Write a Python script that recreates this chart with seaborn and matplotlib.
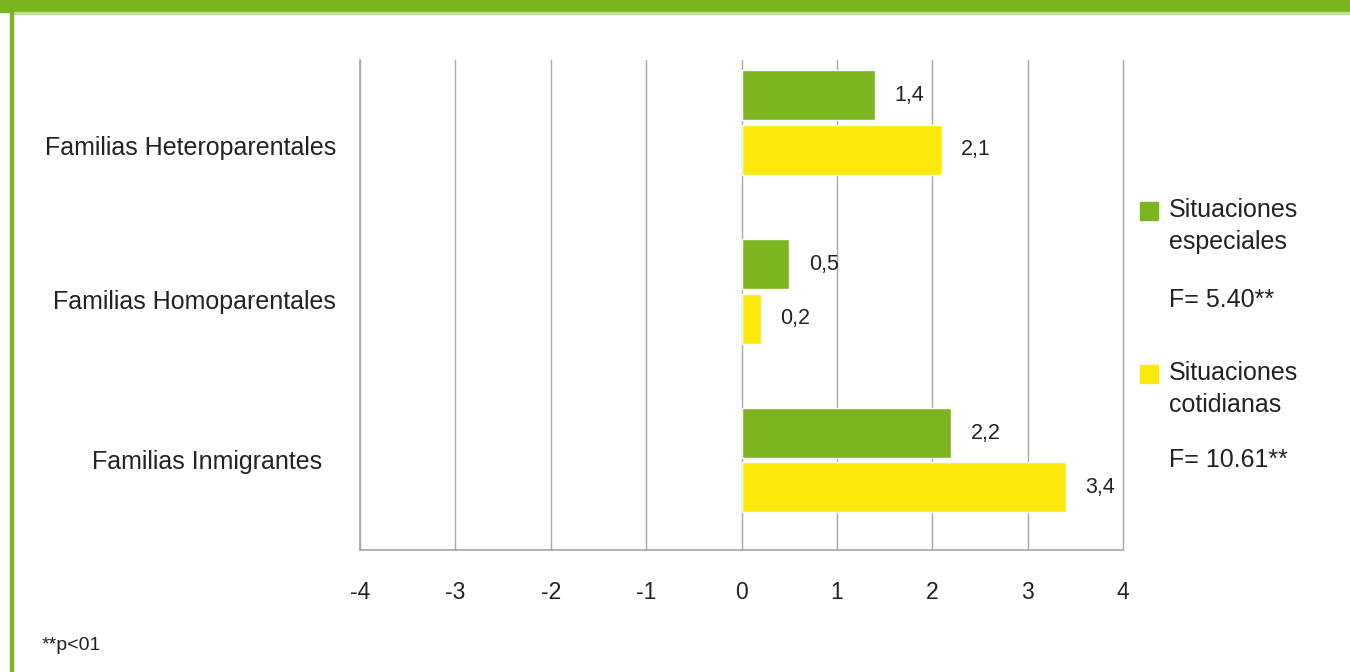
import numpy as np
import pandas as pd
import matplotlib
matplotlib.use("Agg")
import matplotlib.pyplot as plt
import matplotlib.patches as mpatches
import seaborn as sns

# data
familias = ["Familias Heteroparentales", "Familias Homoparentales", "Familias Inmigrantes"]
especiales = [1.4, 0.5, 2.2]
cotidianas = [2.1, 0.2, 3.4]
series_names = ["Situaciones\nespeciales", "Situaciones\ncotidianas"]
f_stats = ["F= 5.40**", "F= 10.61**"]
x_ticks = [-4, -3, -2, -1, 0, 1, 2, 3, 4]

green = "#7CB51F"
yellow = "#FCE80A"
grid_col = "#A8A8A8"
txt_col = "#222222"

df = pd.DataFrame({
    "familia": familias * 2,
    "valor": especiales + cotidianas,
    "serie": [series_names[0]] * 3 + [series_names[1]] * 3,
})

sns.set_theme(style="white")
plt.rcParams["font.family"] = ["Liberation Sans", "DejaVu Sans"]

fig = plt.figure(figsize=(13.5, 6.72), dpi=100)
ax = fig.add_axes([360 / 1350, 1 - 550 / 672, (1123 - 360) / 1350, (550 - 60) / 672])

sns.barplot(data=df, x="valor", y="familia", hue="serie", orient="h",
            palette=[green, yellow], width=0.64, gap=0.075, ax=ax,
            legend=False, saturation=1, errorbar=None)

# value labels with decimal comma
for cont in ax.containers:
    labs = [("%.1f" % b.get_width()).replace(".", ",") for b in cont]
    ax.bar_label(cont, labels=labs, padding=14, fontsize=15.5, color=txt_col)

ax.set_xlim(-4, 4)
ax.set_ylim(2.53, -0.37)
ax.set_xticks(x_ticks)
ax.set_xticklabels([str(t) for t in x_ticks], fontsize=16.5, color=txt_col)
ax.tick_params(axis="x", length=0, pad=22)
ax.set_yticks([])
ax.set_xlabel("")
ax.set_ylabel("")
ax.grid(axis="x", color=grid_col, linewidth=1)
for gl in ax.get_xgridlines():
    gl.set_clip_on(False)
ax.set_axisbelow(True)
for s in ["top", "right"]:
    ax.spines[s].set_visible(False)
for s in ["left", "bottom"]:
    ax.spines[s].set_color(grid_col)
    ax.spines[s].set_linewidth(1.2)

# category labels
label_y = [0.82, 0.507, 0.179]
label_txt = [familias[0], familias[1], familias[2] + "  "]
for t, yy in zip(label_txt, label_y):
    ax.text(-0.031, yy, t, transform=ax.transAxes, ha="right", va="center",
            fontsize=18, color=txt_col)

# legend drawn by hand
for i, (name, fs, col) in enumerate(zip(series_names, f_stats, [green, yellow])):
    top = [210, 373][i]
    fig.patches.append(mpatches.Rectangle((1140 / 1350, 1 - (top + 10) / 672), 18 / 1350, 18 / 672,
                                          transform=fig.transFigure, color=col))
    for k, line in enumerate(name.split("\n")):
        fig.text(1169 / 1350, 1 - (top + 32 * k) / 672, line, ha="left", va="center",
                 fontsize=18, color=txt_col)
    fig.text(1169 / 1350, 1 - [300, 460][i] / 672, fs, ha="left", va="center", fontsize=18,
             color=txt_col)

fig.text(42 / 1350, 1 - 645 / 672, "**p<01", ha="left", va="center", fontsize=14, color=txt_col)

# frame: header band and left border
fig.patches.append(mpatches.Rectangle((0, 1 - 12 / 672), 1, 12 / 672,
                                      transform=fig.transFigure, color="#7AB41E"))
fig.patches.append(mpatches.Rectangle((10 / 1350, 1 - 13.5 / 672), 1, 1.5 / 672,
                                      transform=fig.transFigure, color="#C4DE99"))
fig.patches.append(mpatches.Rectangle((10 / 1350, 0), 3 / 1350, 1,
                                      transform=fig.transFigure, color="#7AB41E"))

fig.savefig("out.png", dpi=100)
